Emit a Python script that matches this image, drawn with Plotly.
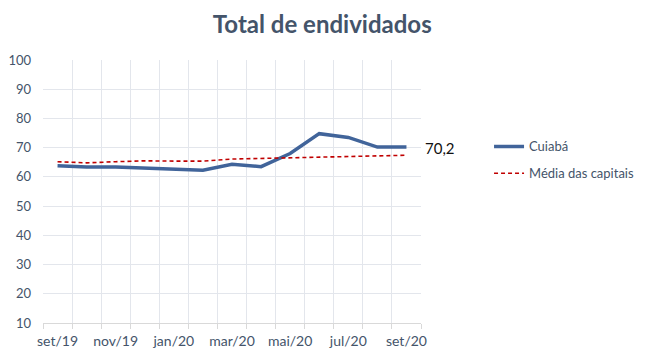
import plotly.graph_objects as go

months = ["set/19", "out/19", "nov/19", "dez/19", "jan/20", "fev/20", "mar/20",
          "abr/20", "mai/20", "jun/20", "jul/20", "ago/20", "set/20"]
cuiaba = [63.8, 63.4, 63.4, 63.1, 62.7, 62.3, 64.3, 63.5, 68.0, 74.8, 73.5, 70.2, 70.2]
media = [65.2, 64.8, 65.2, 65.5, 65.4, 65.4, 66.1, 66.3, 66.7, 66.9, 67.1, 67.3, 67.4]

x_idx = list(range(len(months)))
font_fam = "Lato, 'Open Sans', sans-serif"

fig = go.Figure()
fig.add_trace(go.Scatter(
    x=x_idx, y=cuiaba, mode="lines", name="Cuiabá",
    line=dict(color="#41649A", width=3.5), legendgroup="a"))
fig.add_trace(go.Scatter(
    x=x_idx, y=media, mode="lines", name="Média das capitais",
    line=dict(color="#C00000", width=1.6, dash="4px,3px"), legendgroup="b"))

fig.add_annotation(
    x=x_idx[-1], y=cuiaba[-1], xref="x", yref="y",
    text=f"{cuiaba[-1]:.1f}".replace(".", ","),
    showarrow=False, xanchor="left", yanchor="middle", xshift=17, yshift=-1,
    font=dict(family=font_fam, size=15, color="#111111"))

fig.update_layout(
    width=648, height=363,
    margin=dict(l=35, r=235, t=52, b=48, autoexpand=False),
    paper_bgcolor="white", plot_bgcolor="white",
    title=dict(text="<b>Total de endividados</b>", x=0.485, xanchor="center",
               y=0.955, yanchor="middle",
               font=dict(family=font_fam, size=24, color="#44546A")),
    legend=dict(x=1.18, xanchor="left", y=0.62, yanchor="middle",
                font=dict(family=font_fam, size=13, color="#44546A"),
                tracegroupgap=7, traceorder="grouped", bgcolor="rgba(0,0,0,0)"),
    xaxis=dict(
        range=[-0.5, len(months) - 0.5],
        tickvals=x_idx[::2], ticktext=months[::2],
        showgrid=False, ticks="", zeroline=False, automargin=False,
        showline=True, linecolor="#D9D9D9", linewidth=1,
        ticklabelstandoff=5,
        tickfont=dict(family=font_fam, size=14, color="#44546A"),
        minor=dict(tickvals=[i - 0.5 for i in range(len(months) + 1)],
                   showgrid=True, gridcolor="#E3E6EC", gridwidth=1,
                   ticks="outside", ticklen=5, tickcolor="#D9D9D9"),
        fixedrange=True),
    yaxis=dict(
        range=[10, 100], dtick=10, tick0=10,
        showgrid=True, gridcolor="#E3E6EC", gridwidth=1,
        zeroline=False, showline=False, ticks="", automargin=False,
        ticklabelstandoff=11,
        tickfont=dict(family=font_fam, size=13, color="#44546A"),
        fixedrange=True),
)

fig.write_html("out.html")
